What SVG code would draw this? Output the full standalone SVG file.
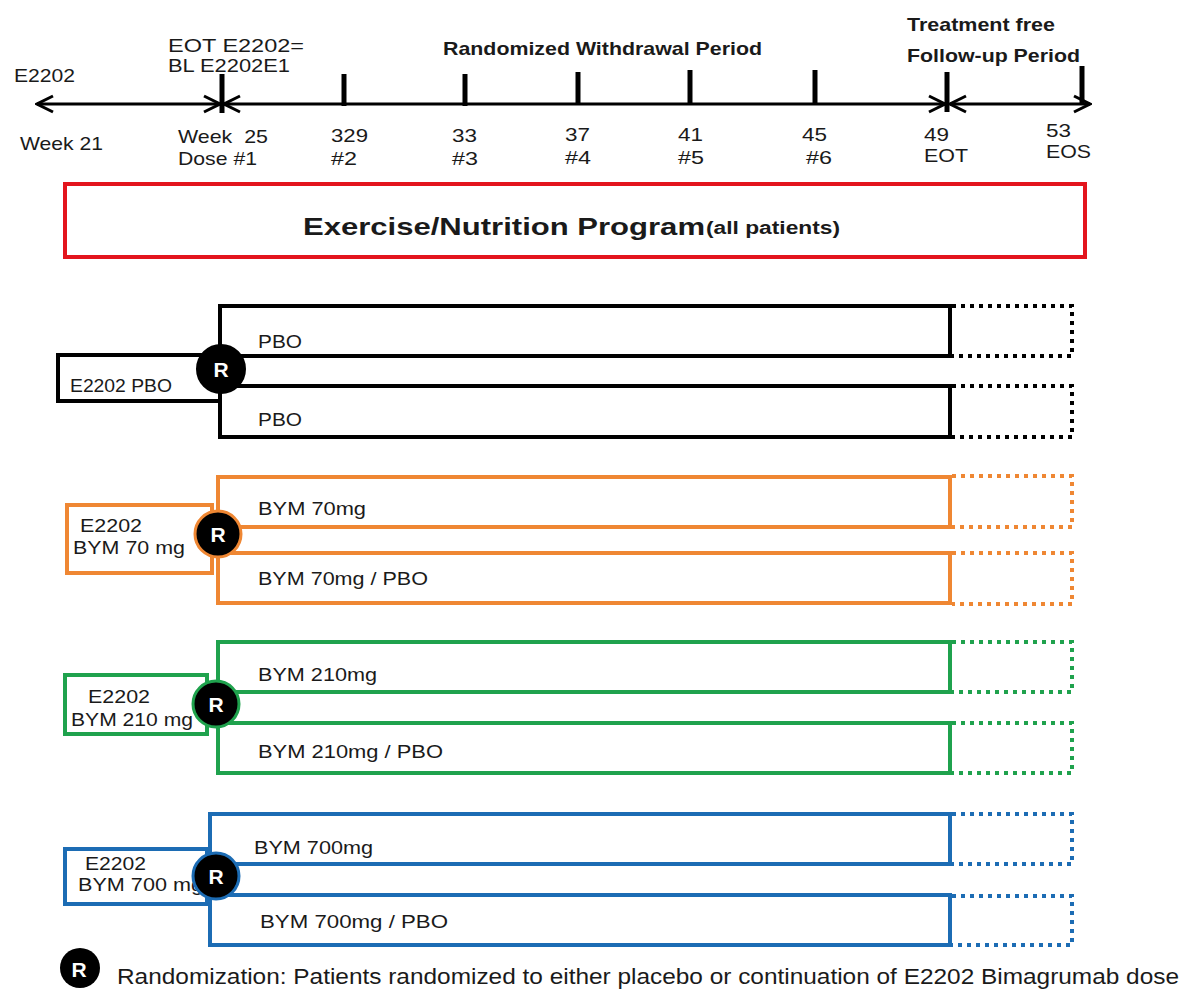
<svg xmlns="http://www.w3.org/2000/svg" width="1184" height="992" viewBox="0 0 1184 992">
<style>
text{font-family:"Liberation Sans",Arial,sans-serif;fill:#1a1a1a}
.t{font-size:19px}
.b{font-weight:bold}
.box{fill:#fff;stroke-width:4}
.dot{fill:none;stroke-width:4;stroke-dasharray:4 5}
.tick{stroke:#000;stroke-width:5}
.axis{stroke:#000;stroke-width:3;fill:none}
.rt{fill:#fff;font-weight:bold;font-size:21px;text-anchor:middle}
.k{stroke:#000}.o{stroke:#ef8733}.g{stroke:#1fa24d}.bl{stroke:#1c6cb4}
</style>
<defs>
<marker id="ah" viewBox="0 0 20 20" refX="18" refY="10" markerWidth="20" markerHeight="20" markerUnits="userSpaceOnUse" orient="auto-start-reverse">
<path d="M2,2 L18,10 L2,18" fill="none" stroke="#000" stroke-width="3"/>
</marker>
</defs>
<g id="timeline">
<line class="axis" x1="37" y1="104" x2="220" y2="104" marker-start="url(#ah)" marker-end="url(#ah)"/>
<line class="axis" x1="224" y1="104" x2="945" y2="104" marker-start="url(#ah)" marker-end="url(#ah)"/>
<line class="axis" x1="950" y1="104" x2="1090" y2="104" marker-start="url(#ah)" marker-end="url(#ah)"/>
<line class="tick" x1="222" y1="74" x2="222" y2="113"/>
<line class="tick" x1="344" y1="74" x2="344" y2="106"/>
<line class="tick" x1="465" y1="74" x2="465" y2="106"/>
<line class="tick" x1="578" y1="72" x2="578" y2="104"/>
<line class="tick" x1="690" y1="70" x2="690" y2="104"/>
<line class="tick" x1="815" y1="70" x2="815" y2="104"/>
<line class="tick" x1="947" y1="72" x2="947" y2="112"/>
<line class="tick" x1="1082" y1="66" x2="1082" y2="104"/>
<text class="t" x="14" y="82" textLength="61" lengthAdjust="spacingAndGlyphs">E2202</text>
<text class="t" x="168" y="52" textLength="136" lengthAdjust="spacingAndGlyphs">EOT E2202=</text>
<text class="t" x="168" y="72" textLength="122" lengthAdjust="spacingAndGlyphs">BL E2202E1</text>
<text class="t b" x="443" y="55" textLength="319" lengthAdjust="spacingAndGlyphs">Randomized Withdrawal Period</text>
<text class="t b" x="907" y="31" textLength="148" lengthAdjust="spacingAndGlyphs">Treatment free</text>
<text class="t b" x="907" y="62" textLength="173" lengthAdjust="spacingAndGlyphs">Follow-up Period</text>
<text class="t" x="20" y="150" textLength="83" lengthAdjust="spacingAndGlyphs">Week 21</text>
<text class="t" x="178" y="143" textLength="90" lengthAdjust="spacingAndGlyphs" xml:space="preserve">Week  25</text>
<text class="t" x="178" y="165" textLength="79" lengthAdjust="spacingAndGlyphs">Dose #1</text>
<text class="t" x="331" y="142" textLength="37" lengthAdjust="spacingAndGlyphs">329</text>
<text class="t" x="331" y="165" textLength="26" lengthAdjust="spacingAndGlyphs">#2</text>
<text class="t" x="452" y="142" textLength="25" lengthAdjust="spacingAndGlyphs">33</text>
<text class="t" x="452" y="165" textLength="26" lengthAdjust="spacingAndGlyphs">#3</text>
<text class="t" x="565" y="141" textLength="25" lengthAdjust="spacingAndGlyphs">37</text>
<text class="t" x="565" y="164" textLength="26" lengthAdjust="spacingAndGlyphs">#4</text>
<text class="t" x="678" y="141" textLength="25" lengthAdjust="spacingAndGlyphs">41</text>
<text class="t" x="678" y="164" textLength="26" lengthAdjust="spacingAndGlyphs">#5</text>
<text class="t" x="802" y="141" textLength="25" lengthAdjust="spacingAndGlyphs">45</text>
<text class="t" x="806" y="164" textLength="26" lengthAdjust="spacingAndGlyphs">#6</text>
<text class="t" x="924" y="141" textLength="25" lengthAdjust="spacingAndGlyphs">49</text>
<text class="t" x="924" y="162" textLength="44" lengthAdjust="spacingAndGlyphs">EOT</text>
<text class="t" x="1046" y="137" textLength="25" lengthAdjust="spacingAndGlyphs">53</text>
<text class="t" x="1046" y="158" textLength="45" lengthAdjust="spacingAndGlyphs">EOS</text>
</g>
<g id="program">
<rect x="65" y="184" width="1020" height="73" fill="#fff" stroke="#e3151d" stroke-width="4"/>
<text class="b" x="303" y="235" font-size="24" textLength="402" lengthAdjust="spacingAndGlyphs">Exercise/Nutrition Program</text>
<text class="b" x="706" y="234" font-size="18" textLength="134" lengthAdjust="spacingAndGlyphs">(all patients)</text>
</g>
<g id="connectors">
<path class="dot k" d="M952,306 H1072 V356 H952"/>
<path class="dot k" d="M952,386 H1072 V437 H952"/>
<path class="dot o" d="M952,476 H1072 V527 H952"/>
<path class="dot o" d="M952,553 H1072 V604 H952"/>
<path class="dot g" d="M952,642 H1072 V692 H952"/>
<path class="dot g" d="M952,723 H1072 V773 H952"/>
<path class="dot bl" d="M952,814 H1072 V864 H952"/>
<path class="dot bl" d="M952,896 H1072 V945 H952"/>
</g>
<g id="group-pbo">
<rect class="box k" x="220" y="306" width="730" height="50"/>
<rect class="box k" x="220" y="386" width="730" height="51"/>
<rect class="box k" x="58" y="355" width="162" height="46"/>
<text class="t" x="258" y="348" textLength="44" lengthAdjust="spacingAndGlyphs">PBO</text>
<text class="t" x="258" y="426" textLength="44" lengthAdjust="spacingAndGlyphs">PBO</text>
<text class="t" x="70" y="392" textLength="102" lengthAdjust="spacingAndGlyphs">E2202 PBO</text>
<circle cx="221" cy="369" r="24" fill="#000" stroke="#000" stroke-width="2"/>
<text class="rt" x="221" y="377">R</text>
</g>
<g id="group-70">
<rect class="box o" x="218" y="477" width="732" height="50"/>
<rect class="box o" x="218" y="553" width="732" height="50"/>
<rect class="box o" x="67" y="505" width="145" height="68"/>
<text class="t" x="258" y="515" textLength="108" lengthAdjust="spacingAndGlyphs">BYM 70mg</text>
<text class="t" x="258" y="585" textLength="170" lengthAdjust="spacingAndGlyphs">BYM 70mg / PBO</text>
<text class="t" x="80" y="532" textLength="62" lengthAdjust="spacingAndGlyphs">E2202</text>
<text class="t" x="73" y="554" textLength="112" lengthAdjust="spacingAndGlyphs">BYM 70 mg</text>
<circle cx="218" cy="534" r="23" fill="#000" stroke="#ef8733" stroke-width="3"/>
<text class="rt" x="218" y="542">R</text>
</g>
<g id="group-210">
<rect class="box g" x="218" y="642" width="732" height="50"/>
<rect class="box g" x="218" y="723" width="732" height="50"/>
<rect class="box g" x="65" y="675" width="142" height="59"/>
<text class="t" x="258" y="681" textLength="119" lengthAdjust="spacingAndGlyphs">BYM 210mg</text>
<text class="t" x="258" y="758" textLength="185" lengthAdjust="spacingAndGlyphs">BYM 210mg / PBO</text>
<text class="t" x="88" y="703" textLength="62" lengthAdjust="spacingAndGlyphs">E2202</text>
<text class="t" x="71" y="726" textLength="122" lengthAdjust="spacingAndGlyphs">BYM 210 mg</text>
<circle cx="216" cy="704" r="23" fill="#000" stroke="#1fa24d" stroke-width="3"/>
<text class="rt" x="216" y="712">R</text>
</g>
<g id="group-700">
<rect class="box bl" x="210" y="814" width="740" height="50"/>
<rect class="box bl" x="210" y="895" width="740" height="50"/>
<rect class="box bl" x="65" y="849" width="142" height="55"/>
<text class="t" x="254" y="854" textLength="119" lengthAdjust="spacingAndGlyphs">BYM 700mg</text>
<text class="t" x="260" y="928" textLength="188" lengthAdjust="spacingAndGlyphs">BYM 700mg / PBO</text>
<text class="t" x="85" y="870" textLength="61" lengthAdjust="spacingAndGlyphs">E2202</text>
<text class="t" x="78" y="891" textLength="125" lengthAdjust="spacingAndGlyphs">BYM 700 mg</text>
<circle cx="216" cy="876" r="23" fill="#000" stroke="#1c6cb4" stroke-width="3"/>
<text class="rt" x="216" y="884">R</text>
</g>
<g id="legend">
<circle cx="80" cy="968" r="20" fill="#000"/>
<text class="rt" x="79" y="977" font-size="24">R</text>
<text x="117" y="984" font-size="22" textLength="1062" lengthAdjust="spacingAndGlyphs">Randomization: Patients randomized to either placebo or continuation of E2202 Bimagrumab dose</text>
</g>
</svg>
